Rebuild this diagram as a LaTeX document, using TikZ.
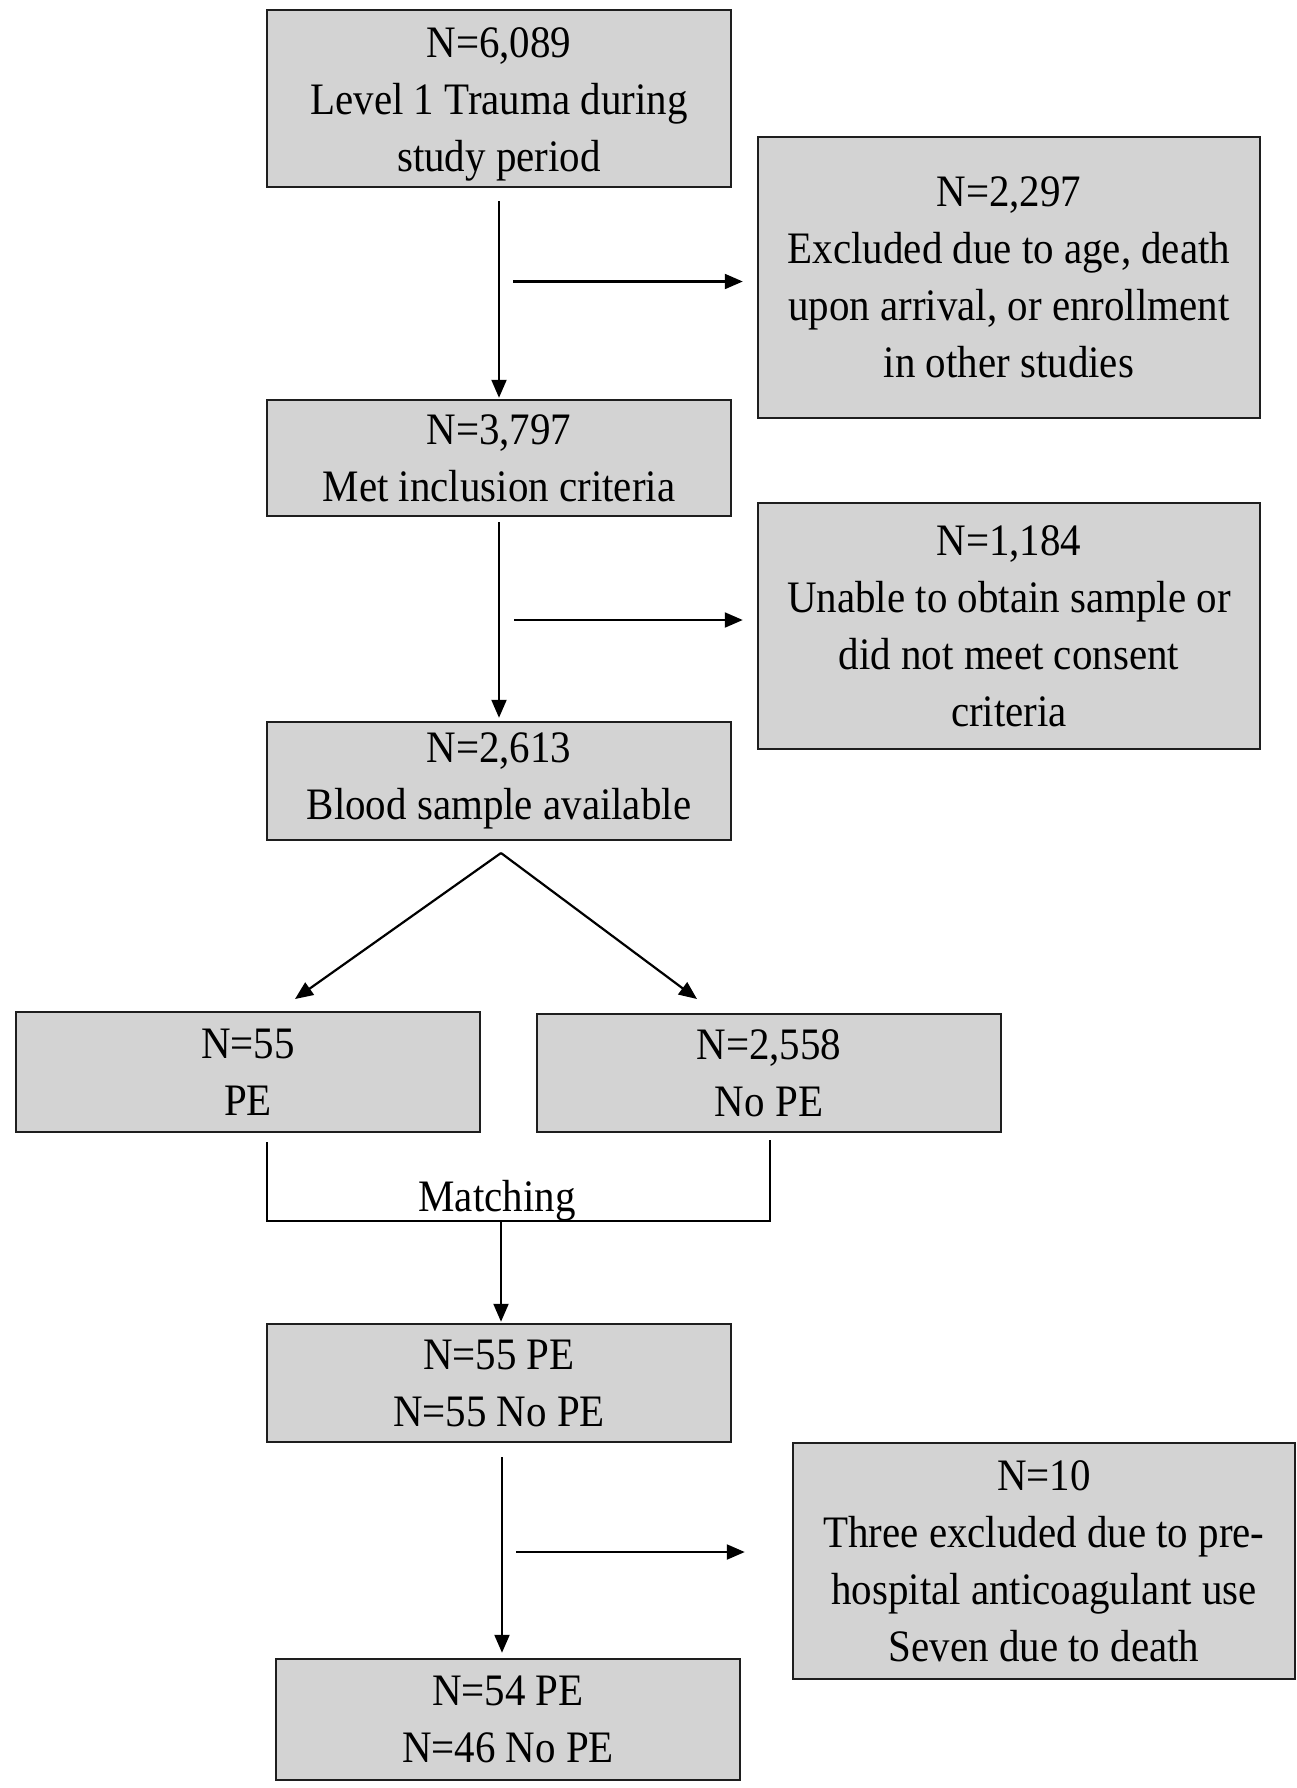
\documentclass[tikz,border=0pt]{standalone}
\usepackage{fontspec}
\setmainfont{Liberation Serif}[FakeStretch=0.91]
\usetikzlibrary{arrows.meta}
\definecolor{boxfill}{RGB}{211,211,211}
\definecolor{edgecol}{RGB}{30,30,30}
\begin{document}
\begin{tikzpicture}[x=1pt,y=-1pt,
  box/.style={draw=edgecol, fill=boxfill, line width=2.5pt, inner sep=0pt, align=center,
    font=\fontsize{45}{57}\selectfont, text=black},
  wbox/.style={box, minimum width=502pt},
  nbox/.style={box, minimum width=464pt},
  arr/.style={draw=black, line width=2.2pt, -{Triangle[length=18pt,width=15pt]}},
  ln/.style={draw=black, line width=2.2pt},
  lbl/.style={font=\fontsize{45}{57}\selectfont, text=black, inner sep=0pt, align=center}]
\useasboundingbox[fill=white] (0,0) rectangle (1297,1788);

\node[nbox, minimum height=177pt,
  label={[lbl, yshift=-6pt]center:{N=6,089\\Level 1 Trauma during\\study period}}] (top) at (499,98.5) {};
\node[wbox, minimum height=281pt] (r1) at (1009,277.5) {N=2,297\\Excluded due to age, death\\upon arrival,  or enrollment\\in other studies};
\node[nbox, minimum height=116pt] (b3) at (499,458) {N=3,797\\Met inclusion criteria};
\node[wbox, minimum height=246pt] (r2) at (1009,626) {N=1,184\\Unable to obtain sample or\\did not meet consent\\criteria};
\node[nbox, minimum height=118pt] (b5) at (499,781) {N=2,613\\Blood sample available};
\node[nbox, minimum height=120pt] (pe) at (248,1072) {N=55\\PE};
\node[nbox, minimum height=118pt] (nope) at (769,1073) {N=2,558\\No PE};
\node[nbox, minimum height=118pt] (b9) at (499,1383) {N=55 PE\\N=55 No PE};
\node[wbox, minimum height=236pt] (r3) at (1044,1561) {N=10\\Three excluded due to pre-\\hospital anticoagulant use\\Seven due to death};
\node[nbox, minimum height=121pt] (b11) at (508,1719.5) {N=54 PE\\N=46 No PE};

% main flow
\draw[arr, shorten <=13pt, shorten >=1pt] (top.south) -- (b3.north);
\coordinate (s1) at (513,281.5);
\draw[arr, shorten >=14pt] (s1) -- (s1 -| r1.west);
\draw[arr, shorten <=5pt, shorten >=3pt] (b3.south) -- (b5.north);
\coordinate (s2) at (514,620);
\draw[arr, shorten >=14pt] (s2) -- (s2 -| r2.west);

% split
\coordinate (apex) at (501,853);
\coordinate (pt) at (295,999);
\coordinate (nt) at (697,999);
\draw[arr] (apex) -- (pt);
\draw[arr] (apex) -- (nt);

% matching bracket
\coordinate (bl) at (267,1142);
\coordinate (br) at (770,1140);
\coordinate (bm) at (501,1221);
\draw[ln] (bl) |- (bm) -| (br);
\node[lbl, anchor=base] (match) at (497,1211) {Matching};
\draw[arr, shorten >=1pt] (bm) -- (bm |- b9.north);

% final
\draw[arr, shorten <=14pt, shorten >=5pt] ([xshift=3pt]b9.south) -- ([xshift=3pt]b9.south |- b11.north);
\coordinate (s3) at (516,1552);
\draw[arr, shorten >=47pt] (s3) -- (s3 -| r3.west);
\end{tikzpicture}
\end{document}
